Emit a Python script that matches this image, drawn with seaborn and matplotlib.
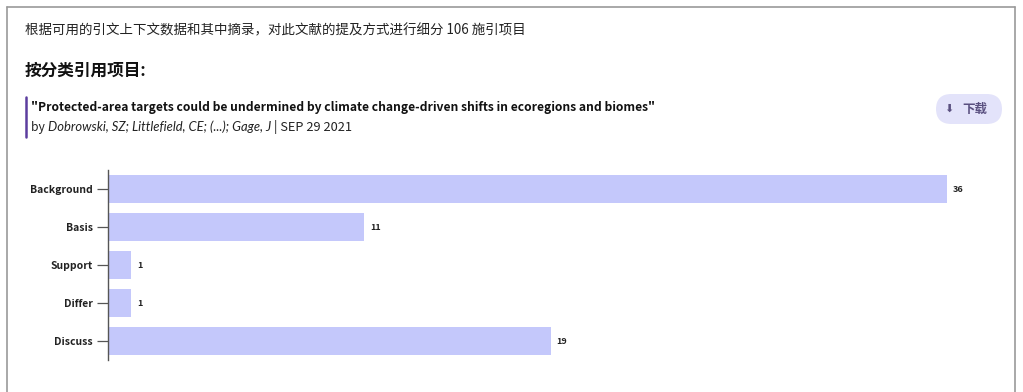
import matplotlib
matplotlib.use("Agg")
import matplotlib.pyplot as plt
import seaborn as sns
import pandas as pd
from matplotlib.patches import FancyBboxPatch
from matplotlib.lines import Line2D

categories = ["Background", "Basis", "Support", "Differ", "Discuss"]
counts = [36, 11, 1, 1, 19]

header = "根据可用的引文上下文数据和其中摘录，对此文献的提及方式进行细分 106 施引项目"
section_title = "按分类引用项目:"
paper_title = "\"Protected-area targets could be undermined by climate change-driven shifts in ecoregions and biomes\""
authors = "Dobrowski, SZ; Littlefield, CE; (...); Gage, J"
date = " | SEP 29 2021"
button_label = "下载"

sns.set_theme(style="white")
plt.rcParams['font.family'] = ['Noto Sans CJK SC', 'DejaVu Sans']

W, H = 1023, 392
fig = plt.figure(figsize=(W / 100, H / 100), dpi=100)
fig.patch.set_facecolor("white")

def fx(px):
    return px / W

def fy(py):
    return 1 - py / H

# outer frame
fig.add_artist(Line2D([fx(7), fx(7)], [fy(7), fy(400)], color="#9a9a9a", lw=1.2))
fig.add_artist(Line2D([fx(7), fx(1015)], [fy(7), fy(7)], color="#9a9a9a", lw=1.2))
fig.add_artist(Line2D([fx(1015), fx(1015)], [fy(7), fy(400)], color="#9a9a9a", lw=1.2))

ax = fig.add_axes([fx(108), fy(360), fx(1000) - fx(108), fy(170) - fy(360)])
df = pd.DataFrame({"category": categories, "count": counts})
sns.barplot(data=df, x="count", y="category", orient="h", color="#c4c8fb",
            saturation=1, width=0.76, ax=ax)
for p in ax.patches:
    p.set_edgecolor("none")
ax.set_xlim(0, 38.28)
ax.set_ylim(4.5, -0.5)
ax.set_xlabel("")
ax.set_ylabel("")
ax.set_xticks([])
for s in ["top", "right", "bottom"]:
    ax.spines[s].set_visible(False)
ax.spines["left"].set_color("#555555")
ax.spines["left"].set_linewidth(1.0)
ax.tick_params(axis="y", left=True, length=8, width=0.9, color="#555555",
               labelsize=7.5, pad=3, labelcolor="#222222")
for lab in ax.get_yticklabels():
    lab.set_fontweight("semibold")
ax.set_facecolor("none")
for i, v in enumerate(counts):
    ax.annotate(str(v), xy=(v, i), xytext=(4, 0), textcoords="offset points",
                va="center", ha="left", fontsize=6.5, fontweight="bold", color="#222222")

# header texts
fig.text(fx(25), fy(30), header, fontsize=9.7, color="#222222", va="center", ha="left")
fig.text(fx(25), fy(71), section_title, fontsize=12, fontweight="bold", color="#111111",
         va="center", ha="left")

# purple accent bar
fig.add_artist(Line2D([fx(25.5), fx(25.5)], [fy(97), fy(137)], color="#5c3d9e", lw=1.8))

fig.text(fx(31), fy(108), paper_title, fontsize=8.7, fontweight="bold", color="#111111",
         va="center", ha="left")

renderer = fig.canvas.get_renderer()
t1 = fig.text(fx(31), fy(127), "by ", fontsize=8.8, color="#222222", va="center", ha="left")
bb = t1.get_window_extent(renderer)
t2 = fig.text(bb.x1 / W, fy(127), authors, fontsize=9.4, style="italic", color="#222222",
              va="center", ha="left", family=["Lato", "DejaVu Sans"])
bb2 = t2.get_window_extent(renderer)
fig.text(bb2.x1 / W, fy(127), date, fontsize=9.2, color="#222222", va="center", ha="left")

# download button
btn = FancyBboxPatch((fx(936), fy(124)), fx(1002) - fx(936), fy(94) - fy(124),
                     boxstyle="round,pad=0,rounding_size=0.015", transform=fig.transFigure,
                     facecolor="#e3e3fa", edgecolor="none", mutation_aspect=W / H)
fig.add_artist(btn)
fig.text(fx(949), fy(109), "⬇", fontsize=8, color="#5a5080", va="center", ha="center",
         family=["DejaVu Sans"])
fig.text(fx(962), fy(109), button_label, fontsize=9, fontweight="semibold", color="#5a5080",
         va="center", ha="left")

fig.savefig("out.png", dpi=100)
